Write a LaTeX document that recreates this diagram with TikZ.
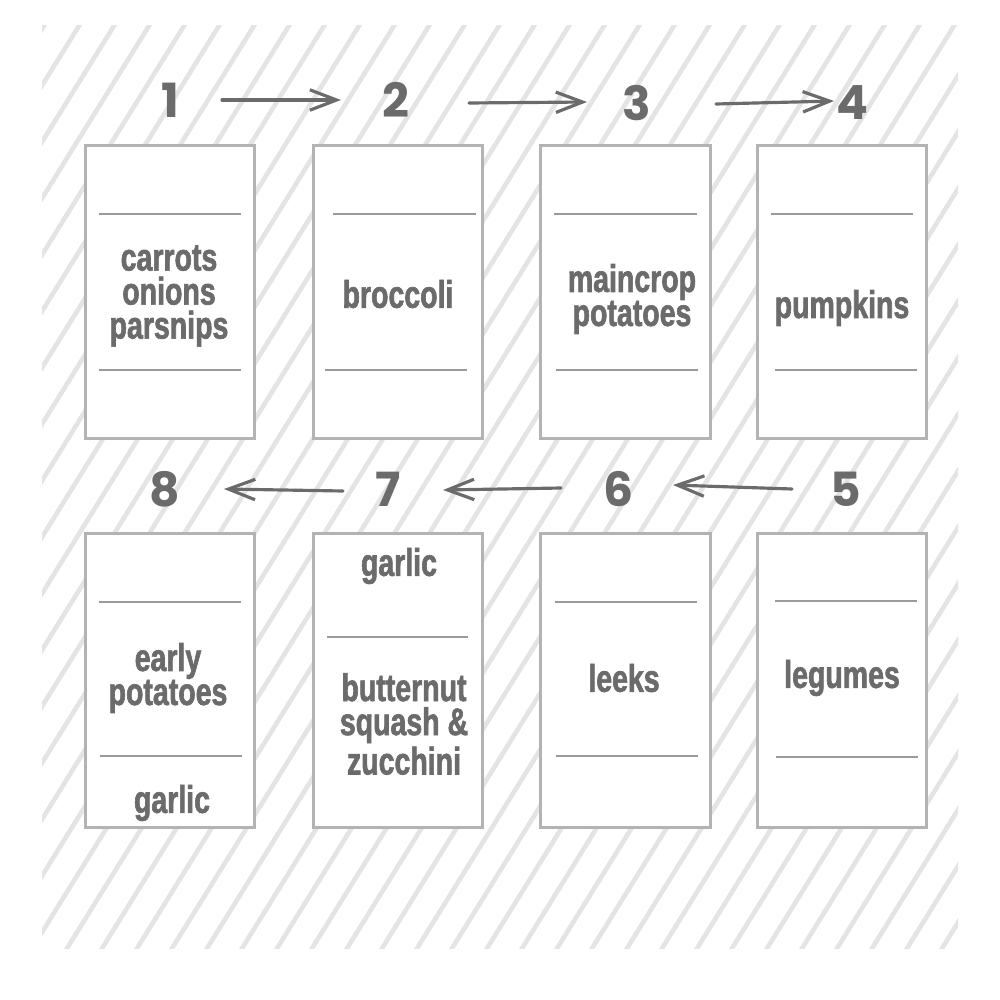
\documentclass[tikz,border=0pt]{standalone}
\usepackage{fontspec}
\usetikzlibrary{arrows.meta}
\newfontfamily\lblfont[FakeStretch=0.74,FakeBold=1.6]{Liberation Sans}
\newfontfamily\numfont{Poppins}
\definecolor{txt}{HTML}{6B6B6B}
\definecolor{bord}{HTML}{B3B3B3}
\definecolor{sep}{HTML}{9A9A9A}
\definecolor{hatchc}{HTML}{E4E4E4}
\tikzset{
  boxn/.style={draw=bord, line width=0.85pt, fill=white, minimum width=1.69cm, minimum height=2.93cm, inner sep=0pt},
  lbl/.style={text=txt, align=center, inner sep=0pt, font=\lblfont\bfseries\fontsize{10.95}{9.67}\selectfont},
  num/.style={text=txt, inner sep=0pt, font=\numfont\bfseries\fontsize{13.4}{14}\selectfont},
  sepl/.style={draw=sep, line width=0.3pt},
  arr/.style={draw=txt, line width=0.9pt, line cap=round, -{Straight Barb[length=7.6pt,width=5.8pt,line width=0.9pt]}},
  hatchl/.style={draw=hatchc, line width=1.3pt}
}
\begin{document}
\begin{tikzpicture}[x=0.01cm,y=-0.01cm]
\useasboundingbox (0,0) rectangle (1000,1000);
\fill[white] (0,0) rectangle (1000,1000);
% hatched background
\begin{scope}
\clip (42,25) rectangle (958,948);
\foreach \k in {-700,-665,...,1100} {
  \draw[hatchl] (\k,1000) -- ++(620,-1000);
}
\end{scope}
% boxes
\node[boxn] (b1) at (170,292) {};
\node[boxn] (b2) at (398,292) {};
\node[boxn] (b3) at (625.5,292) {};
\node[boxn] (b4) at (842,292) {};
\node[boxn] (b8) at (170,680.5) {};
\node[boxn] (b7) at (398,680.5) {};
\node[boxn] (b6) at (625.5,680.5) {};
\node[boxn] (b5) at (842,680.5) {};
% separator lines
\draw[sepl] (99,214) -- (241,214);  \draw[sepl] (99,370) -- (241,370);
\draw[sepl] (333,214) -- (476,214); \draw[sepl] (325,370) -- (467,370);
\draw[sepl] (554,214) -- (697,214); \draw[sepl] (556,370) -- (698,370);
\draw[sepl] (771,214) -- (913,214); \draw[sepl] (775,370) -- (917,370);
\draw[sepl] (99,602) -- (241,602);  \draw[sepl] (100,756) -- (242,756);
\draw[sepl] (327,637) -- (468,637);
\draw[sepl] (555,602) -- (697,602); \draw[sepl] (556,756) -- (698,756);
\draw[sepl] (775,601) -- (917,601); \draw[sepl] (776,757) -- (918,757);
% labels
\node[lbl] (t1) at (169,296) {carrots\\onions\\parsnips};
\node[lbl] (t2) at (398,294) {broccoli};
\node[lbl] (t3) at (632,299) {maincrop\\potatoes};
\node[lbl] (t4) at (842,308) {pumpkins};
\node[lbl] (t8a) at (168,678) {early\\potatoes};
\node[lbl] (t8b) at (172,803) {garlic};
\node[lbl] (t7a) at (399,566) {garlic};
\node[lbl] (t7b) at (404,724) {butternut\\squash \&\\zucchini};
\node[lbl] (t6) at (624,678) {leeks};
\node[lbl] (t5) at (842,678) {legumes};
% numbers
\node[num] (n1) at (170,100) {1};
\node[num] (n2) at (396,100) {2};
\node[num] (n3) at (637,103) {3};
\node[num] (n4) at (852,103) {4};
\node[num] (n8) at (165,489) {8};
\node[num] (n7) at (388,489) {7};
\node[num] (n6) at (618,489) {6};
\node[num] (n5) at (846,489) {5};
% arrows
\draw[arr] ([xshift=52*0.01cm]n1.center) -- ([xshift=-55*0.01cm]n2.center);
\draw[arr] ([xshift=73*0.01cm,yshift=-3*0.01cm]n2.center) -- ([xshift=-50*0.01cm,yshift=1*0.01cm]n3.center);
\draw[arr] ([xshift=79*0.01cm,yshift=-1*0.01cm]n3.center) -- ([xshift=-18*0.01cm,yshift=2*0.01cm]n4.center);
\draw[arr] ([xshift=-54*0.01cm]n5.center) -- ([xshift=55*0.01cm,yshift=4*0.01cm]n6.center);
\draw[arr] ([xshift=-57*0.01cm,yshift=1*0.01cm]n6.center) -- ([xshift=55*0.01cm,yshift=-1*0.01cm]n7.center);
\draw[arr] ([xshift=-45*0.01cm,yshift=-2*0.01cm]n7.center) -- ([xshift=59*0.01cm]n8.center);
\end{tikzpicture}
\end{document}
